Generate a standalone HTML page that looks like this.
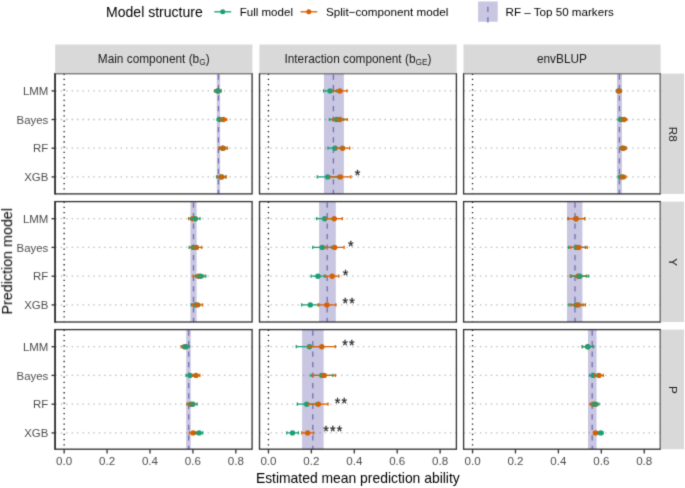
<!DOCTYPE html>
<html><head><meta charset="utf-8"><title>Chart</title>
<style>html,body{margin:0;padding:0;background:#fff;}body{width:685px;height:488px;overflow:hidden;font-family:"Liberation Sans",sans-serif;}svg{display:block;}</style>
</head><body>
<svg width="685" height="488" viewBox="0 0 685 488" font-family="Liberation Sans, sans-serif">
<defs><filter id="soft" x="0" y="0" width="100%" height="100%" filterUnits="objectBoundingBox" color-interpolation-filters="sRGB"><feConvolveMatrix order="3" kernelMatrix="0.01917 0.10012 0.01917 0.10012 0.52283 0.10012 0.01917 0.10012 0.01917" divisor="1" edgeMode="duplicate" preserveAlpha="true"/></filter></defs>
<g filter="url(#soft)">
<rect width="685" height="488" fill="#fff"/>
<text x="106.0" y="17.2" font-size="14.05" fill="#000">Model structure</text>
<line x1="214.3" x2="231.2" y1="11.8" y2="11.8" stroke="#1B9E77" stroke-width="1.33"/>
<circle cx="222.7" cy="11.8" r="2.5" fill="#1B9E77"/>
<line x1="300.5" x2="317.2" y1="11.8" y2="11.8" stroke="#D95F02" stroke-width="1.33"/>
<circle cx="308.8" cy="11.8" r="2.5" fill="#D95F02"/>
<text x="239.7" y="15.8" font-size="11.55" fill="#000">Full model</text>
<text x="326.0" y="15.8" font-size="11.68" fill="#000">Split−component model</text>
<rect x="478.1" y="1.5" width="19.6" height="20.2" fill="#C8C6E1"/>
<line x1="487.9" x2="487.9" y1="22.5" y2="1.5" stroke="#7570B3" stroke-width="1.33" stroke-dasharray="5.23 5.23"/>
<text x="505.5" y="15.8" font-size="11.63" fill="#000">RF – Top 50 markers</text>
<g>
<rect x="55.3" y="73.6" width="196.8" height="120.30000000000001" fill="#fff"/>
<line x1="55.3" x2="252.1" y1="90.9" y2="90.9" stroke="#B8B8B8" stroke-width="1.33" stroke-dasharray="1.36 4.08"/>
<line x1="55.3" x2="252.1" y1="119.5" y2="119.5" stroke="#B8B8B8" stroke-width="1.33" stroke-dasharray="1.36 4.08"/>
<line x1="55.3" x2="252.1" y1="148.2" y2="148.2" stroke="#B8B8B8" stroke-width="1.33" stroke-dasharray="1.36 4.08"/>
<line x1="55.3" x2="252.1" y1="176.9" y2="176.9" stroke="#B8B8B8" stroke-width="1.33" stroke-dasharray="1.36 4.08"/>
<rect x="216.8" y="73.6" width="3.299999999999983" height="120.30000000000001" fill="#7570B3" fill-opacity="0.4"/>
<line x1="218.45" x2="218.45" y1="74.6" y2="193.9" stroke="#7570B3" stroke-width="1.33" stroke-dasharray="5.23 5.23"/>
<line x1="64.15" x2="64.15" y1="73.6" y2="193.9" stroke="#1A1A1A" stroke-width="1.33" stroke-dasharray="1.31 3.9"/>
<circle cx="217.9" cy="90.9" r="2.7" fill="#D95F02"/>
<circle cx="217.9" cy="90.9" r="2.7" fill="#1B9E77"/>
<circle cx="219.6" cy="119.5" r="2.7" fill="#1B9E77"/>
<circle cx="223.3" cy="119.5" r="2.7" fill="#D95F02"/>
<circle cx="222.6" cy="148.2" r="2.7" fill="#1B9E77"/>
<circle cx="223.06" cy="148.2" r="2.7" fill="#D95F02"/>
<circle cx="221.0" cy="176.9" r="2.7" fill="#1B9E77"/>
<circle cx="221.8" cy="176.9" r="2.7" fill="#D95F02"/>
<path d="M214.8 89.30000000000001V92.5M221.0 89.30000000000001V92.5M214.8 90.9H221.0" stroke="#D95F02" stroke-width="1.33" fill="none"/>
<path d="M214.9 89.30000000000001V92.5M220.9 89.30000000000001V92.5M214.9 90.9H220.9" stroke="#1B9E77" stroke-width="1.33" fill="none"/>
<path d="M217.1 117.9V121.1M222.3 117.9V121.1M217.1 119.5H222.3" stroke="#1B9E77" stroke-width="1.33" fill="none"/>
<path d="M219.9 117.9V121.1M226.7 117.9V121.1M219.9 119.5H226.7" stroke="#D95F02" stroke-width="1.33" fill="none"/>
<path d="M219.5 146.6V149.79999999999998M225.7 146.6V149.79999999999998M219.5 148.2H225.7" stroke="#1B9E77" stroke-width="1.33" fill="none"/>
<path d="M218.7 146.6V149.79999999999998M227.4 146.6V149.79999999999998M218.7 148.2H227.4" stroke="#D95F02" stroke-width="1.33" fill="none"/>
<path d="M216.6 175.3V178.5M225.5 175.3V178.5M216.6 176.9H225.5" stroke="#1B9E77" stroke-width="1.33" fill="none"/>
<path d="M217.5 175.3V178.5M226.2 175.3V178.5M217.5 176.9H226.2" stroke="#D95F02" stroke-width="1.33" fill="none"/>
<rect x="55.3" y="73.6" width="196.8" height="120.30000000000001" fill="none" stroke="#333333" stroke-width="1.33"/>
<line x1="55.0" x2="55.0" y1="72.94" y2="194.56" stroke="#333333" stroke-width="1.6"/>
</g>
<g>
<rect x="259.5" y="73.6" width="196.89999999999998" height="120.30000000000001" fill="#fff"/>
<line x1="259.5" x2="456.4" y1="90.9" y2="90.9" stroke="#B8B8B8" stroke-width="1.33" stroke-dasharray="1.36 4.08"/>
<line x1="259.5" x2="456.4" y1="119.5" y2="119.5" stroke="#B8B8B8" stroke-width="1.33" stroke-dasharray="1.36 4.08"/>
<line x1="259.5" x2="456.4" y1="148.2" y2="148.2" stroke="#B8B8B8" stroke-width="1.33" stroke-dasharray="1.36 4.08"/>
<line x1="259.5" x2="456.4" y1="176.9" y2="176.9" stroke="#B8B8B8" stroke-width="1.33" stroke-dasharray="1.36 4.08"/>
<rect x="323.96" y="73.6" width="19.910000000000025" height="120.30000000000001" fill="#7570B3" fill-opacity="0.4"/>
<line x1="333.4" x2="333.4" y1="74.6" y2="193.9" stroke="#7570B3" stroke-width="1.33" stroke-dasharray="5.23 5.23"/>
<line x1="268.45" x2="268.45" y1="73.6" y2="193.9" stroke="#1A1A1A" stroke-width="1.33" stroke-dasharray="1.31 3.9"/>
<circle cx="330.1" cy="90.9" r="2.7" fill="#1B9E77"/>
<circle cx="339.9" cy="90.9" r="2.7" fill="#D95F02"/>
<circle cx="336.6" cy="119.5" r="2.7" fill="#1B9E77"/>
<circle cx="339.9" cy="119.5" r="2.7" fill="#D95F02"/>
<circle cx="335.0" cy="148.2" r="2.7" fill="#1B9E77"/>
<circle cx="342.6" cy="148.2" r="2.7" fill="#D95F02"/>
<circle cx="327.65" cy="176.9" r="2.7" fill="#1B9E77"/>
<circle cx="340.3" cy="176.9" r="2.7" fill="#D95F02"/>
<path d="M323.6 89.30000000000001V92.5M336.6 89.30000000000001V92.5M323.6 90.9H336.6" stroke="#1B9E77" stroke-width="1.33" fill="none"/>
<path d="M333.2 89.30000000000001V92.5M347.0 89.30000000000001V92.5M333.2 90.9H347.0" stroke="#D95F02" stroke-width="1.33" fill="none"/>
<path d="M329.4 117.9V121.1M343.8 117.9V121.1M329.4 119.5H343.8" stroke="#1B9E77" stroke-width="1.33" fill="none"/>
<path d="M332.9 117.9V121.1M347.3 117.9V121.1M332.9 119.5H347.3" stroke="#D95F02" stroke-width="1.33" fill="none"/>
<path d="M328.0 146.6V149.79999999999998M342.1 146.6V149.79999999999998M328.0 148.2H342.1" stroke="#1B9E77" stroke-width="1.33" fill="none"/>
<path d="M335.8 146.6V149.79999999999998M349.7 146.6V149.79999999999998M335.8 148.2H349.7" stroke="#D95F02" stroke-width="1.33" fill="none"/>
<path d="M317.3 175.3V178.5M338.0 175.3V178.5M317.3 176.9H338.0" stroke="#1B9E77" stroke-width="1.33" fill="none"/>
<path d="M329.8 175.3V178.5M350.9 175.3V178.5M329.8 176.9H350.9" stroke="#D95F02" stroke-width="1.33" fill="none"/>
<text x="357.45" y="180.45" font-size="14.2" fill="#262626" stroke="#262626" stroke-width="0.3" text-anchor="middle">*</text>
<rect x="259.5" y="73.6" width="196.89999999999998" height="120.30000000000001" fill="none" stroke="#333333" stroke-width="1.33"/>
</g>
<g>
<rect x="463.6" y="73.6" width="196.69999999999993" height="120.30000000000001" fill="#fff"/>
<line x1="463.6" x2="660.3" y1="90.9" y2="90.9" stroke="#B8B8B8" stroke-width="1.33" stroke-dasharray="1.36 4.08"/>
<line x1="463.6" x2="660.3" y1="119.5" y2="119.5" stroke="#B8B8B8" stroke-width="1.33" stroke-dasharray="1.36 4.08"/>
<line x1="463.6" x2="660.3" y1="148.2" y2="148.2" stroke="#B8B8B8" stroke-width="1.33" stroke-dasharray="1.36 4.08"/>
<line x1="463.6" x2="660.3" y1="176.9" y2="176.9" stroke="#B8B8B8" stroke-width="1.33" stroke-dasharray="1.36 4.08"/>
<rect x="616.97" y="73.6" width="4.92999999999995" height="120.30000000000001" fill="#7570B3" fill-opacity="0.4"/>
<line x1="619.4" x2="619.4" y1="74.6" y2="193.9" stroke="#7570B3" stroke-width="1.33" stroke-dasharray="5.23 5.23"/>
<line x1="472.55" x2="472.55" y1="73.6" y2="193.9" stroke="#1A1A1A" stroke-width="1.33" stroke-dasharray="1.31 3.9"/>
<circle cx="618.6" cy="90.9" r="2.7" fill="#1B9E77"/>
<circle cx="619.07" cy="90.9" r="2.7" fill="#D95F02"/>
<circle cx="620.9" cy="119.5" r="2.7" fill="#1B9E77"/>
<circle cx="624.0" cy="119.5" r="2.7" fill="#D95F02"/>
<circle cx="622.6" cy="148.2" r="2.7" fill="#1B9E77"/>
<circle cx="623.6" cy="148.2" r="2.7" fill="#D95F02"/>
<circle cx="620.9" cy="176.9" r="2.7" fill="#1B9E77"/>
<circle cx="623.1" cy="176.9" r="2.7" fill="#D95F02"/>
<path d="M616.3 89.30000000000001V92.5M620.9 89.30000000000001V92.5M616.3 90.9H620.9" stroke="#1B9E77" stroke-width="1.33" fill="none"/>
<path d="M616.8 89.30000000000001V92.5M621.4 89.30000000000001V92.5M616.8 90.9H621.4" stroke="#D95F02" stroke-width="1.33" fill="none"/>
<path d="M618.3 117.9V121.1M623.5 117.9V121.1M618.3 119.5H623.5" stroke="#1B9E77" stroke-width="1.33" fill="none"/>
<path d="M621.3 117.9V121.1M626.7 117.9V121.1M621.3 119.5H626.7" stroke="#D95F02" stroke-width="1.33" fill="none"/>
<path d="M619.9 146.6V149.79999999999998M625.3 146.6V149.79999999999998M619.9 148.2H625.3" stroke="#1B9E77" stroke-width="1.33" fill="none"/>
<path d="M620.9 146.6V149.79999999999998M626.3 146.6V149.79999999999998M620.9 148.2H626.3" stroke="#D95F02" stroke-width="1.33" fill="none"/>
<path d="M618.3 175.3V178.5M623.5 175.3V178.5M618.3 176.9H623.5" stroke="#1B9E77" stroke-width="1.33" fill="none"/>
<path d="M620.3 175.3V178.5M625.9 175.3V178.5M620.3 176.9H625.9" stroke="#D95F02" stroke-width="1.33" fill="none"/>
<rect x="463.6" y="73.6" width="196.69999999999993" height="120.30000000000001" fill="none" stroke="#333333" stroke-width="1.33"/>
</g>
<line x1="51.5" x2="55.3" y1="90.9" y2="90.9" stroke="#333333" stroke-width="1.33"/>
<text x="48.3" y="95.10000000000001" font-size="11.45" fill="#4D4D4D" text-anchor="end">LMM</text>
<line x1="51.5" x2="55.3" y1="119.5" y2="119.5" stroke="#333333" stroke-width="1.33"/>
<text x="48.3" y="123.7" font-size="11.45" fill="#4D4D4D" text-anchor="end">Bayes</text>
<line x1="51.5" x2="55.3" y1="148.2" y2="148.2" stroke="#333333" stroke-width="1.33"/>
<text x="48.3" y="152.39999999999998" font-size="11.45" fill="#4D4D4D" text-anchor="end">RF</text>
<line x1="51.5" x2="55.3" y1="176.9" y2="176.9" stroke="#333333" stroke-width="1.33"/>
<text x="48.3" y="181.1" font-size="11.45" fill="#4D4D4D" text-anchor="end">XGB</text>
<g>
<rect x="55.3" y="201.6" width="196.8" height="120.4" fill="#fff"/>
<line x1="55.3" x2="252.1" y1="218.7" y2="218.7" stroke="#B8B8B8" stroke-width="1.33" stroke-dasharray="1.36 4.08"/>
<line x1="55.3" x2="252.1" y1="247.4" y2="247.4" stroke="#B8B8B8" stroke-width="1.33" stroke-dasharray="1.36 4.08"/>
<line x1="55.3" x2="252.1" y1="276.2" y2="276.2" stroke="#B8B8B8" stroke-width="1.33" stroke-dasharray="1.36 4.08"/>
<line x1="55.3" x2="252.1" y1="304.9" y2="304.9" stroke="#B8B8B8" stroke-width="1.33" stroke-dasharray="1.36 4.08"/>
<rect x="190.45" y="201.6" width="6.150000000000006" height="120.4" fill="#7570B3" fill-opacity="0.4"/>
<line x1="193.5" x2="193.5" y1="202.6" y2="322.0" stroke="#7570B3" stroke-width="1.33" stroke-dasharray="5.23 5.23"/>
<line x1="64.15" x2="64.15" y1="201.6" y2="322.0" stroke="#1A1A1A" stroke-width="1.33" stroke-dasharray="1.31 3.9"/>
<circle cx="192.7" cy="218.7" r="2.7" fill="#D95F02"/>
<circle cx="195.4" cy="218.7" r="2.7" fill="#1B9E77"/>
<circle cx="193.3" cy="247.4" r="2.7" fill="#1B9E77"/>
<circle cx="196.4" cy="247.4" r="2.7" fill="#D95F02"/>
<circle cx="198.5" cy="276.2" r="2.7" fill="#D95F02"/>
<circle cx="200.7" cy="276.2" r="2.7" fill="#1B9E77"/>
<circle cx="195.4" cy="304.9" r="2.7" fill="#1B9E77"/>
<circle cx="197.5" cy="304.9" r="2.7" fill="#D95F02"/>
<path d="M188.7 217.1V220.29999999999998M196.7 217.1V220.29999999999998M188.7 218.7H196.7" stroke="#D95F02" stroke-width="1.33" fill="none"/>
<path d="M190.8 217.1V220.29999999999998M200.0 217.1V220.29999999999998M190.8 218.7H200.0" stroke="#1B9E77" stroke-width="1.33" fill="none"/>
<path d="M189.2 245.8V249.0M197.4 245.8V249.0M189.2 247.4H197.4" stroke="#1B9E77" stroke-width="1.33" fill="none"/>
<path d="M191.4 245.8V249.0M201.6 245.8V249.0M191.4 247.4H201.6" stroke="#D95F02" stroke-width="1.33" fill="none"/>
<path d="M193.2 274.59999999999997V277.8M203.8 274.59999999999997V277.8M193.2 276.2H203.8" stroke="#D95F02" stroke-width="1.33" fill="none"/>
<path d="M195.6 274.59999999999997V277.8M205.8 274.59999999999997V277.8M195.6 276.2H205.8" stroke="#1B9E77" stroke-width="1.33" fill="none"/>
<path d="M191.1 303.29999999999995V306.5M199.7 303.29999999999995V306.5M191.1 304.9H199.7" stroke="#1B9E77" stroke-width="1.33" fill="none"/>
<path d="M192.5 303.29999999999995V306.5M202.5 303.29999999999995V306.5M192.5 304.9H202.5" stroke="#D95F02" stroke-width="1.33" fill="none"/>
<rect x="55.3" y="201.6" width="196.8" height="120.4" fill="none" stroke="#333333" stroke-width="1.33"/>
<line x1="55.0" x2="55.0" y1="200.94" y2="322.66" stroke="#333333" stroke-width="1.6"/>
</g>
<g>
<rect x="259.5" y="201.6" width="196.89999999999998" height="120.4" fill="#fff"/>
<line x1="259.5" x2="456.4" y1="218.7" y2="218.7" stroke="#B8B8B8" stroke-width="1.33" stroke-dasharray="1.36 4.08"/>
<line x1="259.5" x2="456.4" y1="247.4" y2="247.4" stroke="#B8B8B8" stroke-width="1.33" stroke-dasharray="1.36 4.08"/>
<line x1="259.5" x2="456.4" y1="276.2" y2="276.2" stroke="#B8B8B8" stroke-width="1.33" stroke-dasharray="1.36 4.08"/>
<line x1="259.5" x2="456.4" y1="304.9" y2="304.9" stroke="#B8B8B8" stroke-width="1.33" stroke-dasharray="1.36 4.08"/>
<rect x="319.1" y="201.6" width="16.69999999999999" height="120.4" fill="#7570B3" fill-opacity="0.4"/>
<line x1="327.2" x2="327.2" y1="202.6" y2="322.0" stroke="#7570B3" stroke-width="1.33" stroke-dasharray="5.23 5.23"/>
<line x1="268.45" x2="268.45" y1="201.6" y2="322.0" stroke="#1A1A1A" stroke-width="1.33" stroke-dasharray="1.31 3.9"/>
<circle cx="324.8" cy="218.7" r="2.7" fill="#1B9E77"/>
<circle cx="334.2" cy="218.7" r="2.7" fill="#D95F02"/>
<circle cx="322.2" cy="247.4" r="2.7" fill="#1B9E77"/>
<circle cx="334.6" cy="247.4" r="2.7" fill="#D95F02"/>
<circle cx="317.9" cy="276.2" r="2.7" fill="#1B9E77"/>
<circle cx="332.15" cy="276.2" r="2.7" fill="#D95F02"/>
<circle cx="310.3" cy="304.9" r="2.7" fill="#1B9E77"/>
<circle cx="326.9" cy="304.9" r="2.7" fill="#D95F02"/>
<path d="M316.7 217.1V220.29999999999998M332.9 217.1V220.29999999999998M316.7 218.7H332.9" stroke="#1B9E77" stroke-width="1.33" fill="none"/>
<path d="M326.1 217.1V220.29999999999998M342.3 217.1V220.29999999999998M326.1 218.7H342.3" stroke="#D95F02" stroke-width="1.33" fill="none"/>
<path d="M312.7 245.8V249.0M331.7 245.8V249.0M312.7 247.4H331.7" stroke="#1B9E77" stroke-width="1.33" fill="none"/>
<path d="M325.1 245.8V249.0M344.1 245.8V249.0M325.1 247.4H344.1" stroke="#D95F02" stroke-width="1.33" fill="none"/>
<text x="350.65" y="250.95" font-size="14.2" fill="#262626" stroke="#262626" stroke-width="0.3" text-anchor="middle">*</text>
<path d="M311.2 274.59999999999997V277.8M324.6 274.59999999999997V277.8M311.2 276.2H324.6" stroke="#1B9E77" stroke-width="1.33" fill="none"/>
<path d="M325.45 274.59999999999997V277.8M338.85 274.59999999999997V277.8M325.45 276.2H338.85" stroke="#D95F02" stroke-width="1.33" fill="none"/>
<text x="345.40" y="279.75" font-size="14.2" fill="#262626" stroke="#262626" stroke-width="0.3" text-anchor="middle">*</text>
<path d="M301.6 303.29999999999995V306.5M319.0 303.29999999999995V306.5M301.6 304.9H319.0" stroke="#1B9E77" stroke-width="1.33" fill="none"/>
<path d="M318.0 303.29999999999995V306.5M335.8 303.29999999999995V306.5M318.0 304.9H335.8" stroke="#D95F02" stroke-width="1.33" fill="none"/>
<text x="345.35" y="308.45" font-size="14.2" fill="#262626" stroke="#262626" stroke-width="0.3" text-anchor="middle">*</text>
<text x="352.05" y="308.45" font-size="14.2" fill="#262626" stroke="#262626" stroke-width="0.3" text-anchor="middle">*</text>
<rect x="259.5" y="201.6" width="196.89999999999998" height="120.4" fill="none" stroke="#333333" stroke-width="1.33"/>
</g>
<g>
<rect x="463.6" y="201.6" width="196.69999999999993" height="120.4" fill="#fff"/>
<line x1="463.6" x2="660.3" y1="218.7" y2="218.7" stroke="#B8B8B8" stroke-width="1.33" stroke-dasharray="1.36 4.08"/>
<line x1="463.6" x2="660.3" y1="247.4" y2="247.4" stroke="#B8B8B8" stroke-width="1.33" stroke-dasharray="1.36 4.08"/>
<line x1="463.6" x2="660.3" y1="276.2" y2="276.2" stroke="#B8B8B8" stroke-width="1.33" stroke-dasharray="1.36 4.08"/>
<line x1="463.6" x2="660.3" y1="304.9" y2="304.9" stroke="#B8B8B8" stroke-width="1.33" stroke-dasharray="1.36 4.08"/>
<rect x="567.0" y="201.6" width="15.399999999999977" height="120.4" fill="#7570B3" fill-opacity="0.4"/>
<line x1="575.0" x2="575.0" y1="202.6" y2="322.0" stroke="#7570B3" stroke-width="1.33" stroke-dasharray="5.23 5.23"/>
<line x1="472.55" x2="472.55" y1="201.6" y2="322.0" stroke="#1A1A1A" stroke-width="1.33" stroke-dasharray="1.31 3.9"/>
<circle cx="576.0" cy="218.7" r="2.7" fill="#1B9E77"/>
<circle cx="576.0" cy="218.7" r="2.7" fill="#D95F02"/>
<circle cx="576.5" cy="247.4" r="2.7" fill="#1B9E77"/>
<circle cx="578.7" cy="247.4" r="2.7" fill="#D95F02"/>
<circle cx="578.1" cy="276.2" r="2.7" fill="#D95F02"/>
<circle cx="579.9" cy="276.2" r="2.7" fill="#1B9E77"/>
<circle cx="576.0" cy="304.9" r="2.7" fill="#1B9E77"/>
<circle cx="578.3" cy="304.9" r="2.7" fill="#D95F02"/>
<path d="M568.1 217.1V220.29999999999998M584.6 217.1V220.29999999999998M568.1 218.7H584.6" stroke="#1B9E77" stroke-width="1.33" fill="none"/>
<path d="M567.95 217.1V220.29999999999998M584.8 217.1V220.29999999999998M567.95 218.7H584.8" stroke="#D95F02" stroke-width="1.33" fill="none"/>
<path d="M568.6 245.8V249.0M585.4 245.8V249.0M568.6 247.4H585.4" stroke="#1B9E77" stroke-width="1.33" fill="none"/>
<path d="M570.4 245.8V249.0M587.25 245.8V249.0M570.4 247.4H587.25" stroke="#D95F02" stroke-width="1.33" fill="none"/>
<path d="M570.2 274.59999999999997V277.8M586.4 274.59999999999997V277.8M570.2 276.2H586.4" stroke="#D95F02" stroke-width="1.33" fill="none"/>
<path d="M571.3 274.59999999999997V277.8M588.5 274.59999999999997V277.8M571.3 276.2H588.5" stroke="#1B9E77" stroke-width="1.33" fill="none"/>
<path d="M568.9 303.29999999999995V306.5M583.1 303.29999999999995V306.5M568.9 304.9H583.1" stroke="#1B9E77" stroke-width="1.33" fill="none"/>
<path d="M571.0 303.29999999999995V306.5M585.4 303.29999999999995V306.5M571.0 304.9H585.4" stroke="#D95F02" stroke-width="1.33" fill="none"/>
<rect x="463.6" y="201.6" width="196.69999999999993" height="120.4" fill="none" stroke="#333333" stroke-width="1.33"/>
</g>
<line x1="51.5" x2="55.3" y1="218.7" y2="218.7" stroke="#333333" stroke-width="1.33"/>
<text x="48.3" y="222.89999999999998" font-size="11.45" fill="#4D4D4D" text-anchor="end">LMM</text>
<line x1="51.5" x2="55.3" y1="247.4" y2="247.4" stroke="#333333" stroke-width="1.33"/>
<text x="48.3" y="251.6" font-size="11.45" fill="#4D4D4D" text-anchor="end">Bayes</text>
<line x1="51.5" x2="55.3" y1="276.2" y2="276.2" stroke="#333333" stroke-width="1.33"/>
<text x="48.3" y="280.4" font-size="11.45" fill="#4D4D4D" text-anchor="end">RF</text>
<line x1="51.5" x2="55.3" y1="304.9" y2="304.9" stroke="#333333" stroke-width="1.33"/>
<text x="48.3" y="309.09999999999997" font-size="11.45" fill="#4D4D4D" text-anchor="end">XGB</text>
<g>
<rect x="55.3" y="329.6" width="196.8" height="119.59999999999997" fill="#fff"/>
<line x1="55.3" x2="252.1" y1="346.7" y2="346.7" stroke="#B8B8B8" stroke-width="1.33" stroke-dasharray="1.36 4.08"/>
<line x1="55.3" x2="252.1" y1="375.4" y2="375.4" stroke="#B8B8B8" stroke-width="1.33" stroke-dasharray="1.36 4.08"/>
<line x1="55.3" x2="252.1" y1="404.2" y2="404.2" stroke="#B8B8B8" stroke-width="1.33" stroke-dasharray="1.36 4.08"/>
<line x1="55.3" x2="252.1" y1="432.9" y2="432.9" stroke="#B8B8B8" stroke-width="1.33" stroke-dasharray="1.36 4.08"/>
<rect x="186.2" y="329.6" width="4.5" height="119.59999999999997" fill="#7570B3" fill-opacity="0.4"/>
<line x1="188.7" x2="188.7" y1="330.6" y2="449.2" stroke="#7570B3" stroke-width="1.33" stroke-dasharray="5.23 5.23"/>
<line x1="64.15" x2="64.15" y1="329.6" y2="449.2" stroke="#1A1A1A" stroke-width="1.33" stroke-dasharray="1.31 3.9"/>
<circle cx="184.5" cy="346.7" r="2.7" fill="#D95F02"/>
<circle cx="186.0" cy="346.7" r="2.7" fill="#1B9E77"/>
<circle cx="189.9" cy="375.4" r="2.7" fill="#1B9E77"/>
<circle cx="196.1" cy="375.4" r="2.7" fill="#D95F02"/>
<circle cx="190.7" cy="404.2" r="2.7" fill="#D95F02"/>
<circle cx="192.75" cy="404.2" r="2.7" fill="#1B9E77"/>
<circle cx="193.1" cy="432.9" r="2.7" fill="#D95F02"/>
<circle cx="199.15" cy="432.9" r="2.7" fill="#1B9E77"/>
<path d="M181.1 345.09999999999997V348.3M187.9 345.09999999999997V348.3M181.1 346.7H187.9" stroke="#D95F02" stroke-width="1.33" fill="none"/>
<path d="M182.6 345.09999999999997V348.3M189.4 345.09999999999997V348.3M182.6 346.7H189.4" stroke="#1B9E77" stroke-width="1.33" fill="none"/>
<path d="M186.0 373.79999999999995V377.0M193.8 373.79999999999995V377.0M186.0 375.4H193.8" stroke="#1B9E77" stroke-width="1.33" fill="none"/>
<path d="M192.4 373.79999999999995V377.0M199.8 373.79999999999995V377.0M192.4 375.4H199.8" stroke="#D95F02" stroke-width="1.33" fill="none"/>
<path d="M186.9 402.59999999999997V405.8M194.5 402.59999999999997V405.8M186.9 404.2H194.5" stroke="#D95F02" stroke-width="1.33" fill="none"/>
<path d="M188.5 402.59999999999997V405.8M197.0 402.59999999999997V405.8M188.5 404.2H197.0" stroke="#1B9E77" stroke-width="1.33" fill="none"/>
<path d="M189.4 431.29999999999995V434.5M196.8 431.29999999999995V434.5M189.4 432.9H196.8" stroke="#D95F02" stroke-width="1.33" fill="none"/>
<path d="M195.6 431.29999999999995V434.5M202.7 431.29999999999995V434.5M195.6 432.9H202.7" stroke="#1B9E77" stroke-width="1.33" fill="none"/>
<rect x="55.3" y="329.6" width="196.8" height="119.59999999999997" fill="none" stroke="#333333" stroke-width="1.33"/>
<line x1="55.0" x2="55.0" y1="328.94" y2="449.86" stroke="#333333" stroke-width="1.6"/>
</g>
<line x1="64.15" x2="64.15" y1="449.2" y2="453.4" stroke="#333333" stroke-width="1.33"/>
<text x="64.15" y="464.8" font-size="11.6" fill="#4D4D4D" text-anchor="middle">0.0</text>
<line x1="107.07" x2="107.07" y1="449.2" y2="453.4" stroke="#333333" stroke-width="1.33"/>
<text x="107.07" y="464.8" font-size="11.6" fill="#4D4D4D" text-anchor="middle">0.2</text>
<line x1="149.99" x2="149.99" y1="449.2" y2="453.4" stroke="#333333" stroke-width="1.33"/>
<text x="149.99" y="464.8" font-size="11.6" fill="#4D4D4D" text-anchor="middle">0.4</text>
<line x1="192.91" x2="192.91" y1="449.2" y2="453.4" stroke="#333333" stroke-width="1.33"/>
<text x="192.91" y="464.8" font-size="11.6" fill="#4D4D4D" text-anchor="middle">0.6</text>
<line x1="235.83" x2="235.83" y1="449.2" y2="453.4" stroke="#333333" stroke-width="1.33"/>
<text x="235.83" y="464.8" font-size="11.6" fill="#4D4D4D" text-anchor="middle">0.8</text>
<g>
<rect x="259.5" y="329.6" width="196.89999999999998" height="119.59999999999997" fill="#fff"/>
<line x1="259.5" x2="456.4" y1="346.7" y2="346.7" stroke="#B8B8B8" stroke-width="1.33" stroke-dasharray="1.36 4.08"/>
<line x1="259.5" x2="456.4" y1="375.4" y2="375.4" stroke="#B8B8B8" stroke-width="1.33" stroke-dasharray="1.36 4.08"/>
<line x1="259.5" x2="456.4" y1="404.2" y2="404.2" stroke="#B8B8B8" stroke-width="1.33" stroke-dasharray="1.36 4.08"/>
<line x1="259.5" x2="456.4" y1="432.9" y2="432.9" stroke="#B8B8B8" stroke-width="1.33" stroke-dasharray="1.36 4.08"/>
<rect x="302.1" y="329.6" width="21.5" height="119.59999999999997" fill="#7570B3" fill-opacity="0.4"/>
<line x1="312.8" x2="312.8" y1="330.6" y2="449.2" stroke="#7570B3" stroke-width="1.33" stroke-dasharray="5.23 5.23"/>
<line x1="268.45" x2="268.45" y1="329.6" y2="449.2" stroke="#1A1A1A" stroke-width="1.33" stroke-dasharray="1.31 3.9"/>
<circle cx="309.5" cy="346.7" r="2.7" fill="#1B9E77"/>
<circle cx="321.8" cy="346.7" r="2.7" fill="#D95F02"/>
<circle cx="321.8" cy="375.4" r="2.7" fill="#1B9E77"/>
<circle cx="324.2" cy="375.4" r="2.7" fill="#D95F02"/>
<circle cx="306.7" cy="404.2" r="2.7" fill="#1B9E77"/>
<circle cx="318.3" cy="404.2" r="2.7" fill="#D95F02"/>
<circle cx="292.5" cy="432.9" r="2.7" fill="#1B9E77"/>
<circle cx="307.65" cy="432.9" r="2.7" fill="#D95F02"/>
<path d="M296.3 345.09999999999997V348.3M322.7 345.09999999999997V348.3M296.3 346.7H322.7" stroke="#1B9E77" stroke-width="1.33" fill="none"/>
<path d="M308.2 345.09999999999997V348.3M335.4 345.09999999999997V348.3M308.2 346.7H335.4" stroke="#D95F02" stroke-width="1.33" fill="none"/>
<text x="344.95" y="350.25" font-size="14.2" fill="#262626" stroke="#262626" stroke-width="0.3" text-anchor="middle">*</text>
<text x="351.65" y="350.25" font-size="14.2" fill="#262626" stroke="#262626" stroke-width="0.3" text-anchor="middle">*</text>
<path d="M310.8 373.79999999999995V377.0M332.8 373.79999999999995V377.0M310.8 375.4H332.8" stroke="#1B9E77" stroke-width="1.33" fill="none"/>
<path d="M313.0 373.79999999999995V377.0M335.4 373.79999999999995V377.0M313.0 375.4H335.4" stroke="#D95F02" stroke-width="1.33" fill="none"/>
<path d="M297.3 402.59999999999997V405.8M316.1 402.59999999999997V405.8M297.3 404.2H316.1" stroke="#1B9E77" stroke-width="1.33" fill="none"/>
<path d="M308.6 402.59999999999997V405.8M328.0 402.59999999999997V405.8M308.6 404.2H328.0" stroke="#D95F02" stroke-width="1.33" fill="none"/>
<text x="337.55" y="407.75" font-size="14.2" fill="#262626" stroke="#262626" stroke-width="0.3" text-anchor="middle">*</text>
<text x="344.25" y="407.75" font-size="14.2" fill="#262626" stroke="#262626" stroke-width="0.3" text-anchor="middle">*</text>
<path d="M286.8 431.29999999999995V434.5M298.4 431.29999999999995V434.5M286.8 432.9H298.4" stroke="#1B9E77" stroke-width="1.33" fill="none"/>
<path d="M301.8 431.29999999999995V434.5M313.5 431.29999999999995V434.5M301.8 432.9H313.5" stroke="#D95F02" stroke-width="1.33" fill="none"/>
<text x="326.05" y="436.45" font-size="14.2" fill="#262626" stroke="#262626" stroke-width="0.3" text-anchor="middle">*</text>
<text x="332.75" y="436.45" font-size="14.2" fill="#262626" stroke="#262626" stroke-width="0.3" text-anchor="middle">*</text>
<text x="339.45" y="436.45" font-size="14.2" fill="#262626" stroke="#262626" stroke-width="0.3" text-anchor="middle">*</text>
<rect x="259.5" y="329.6" width="196.89999999999998" height="119.59999999999997" fill="none" stroke="#333333" stroke-width="1.33"/>
</g>
<line x1="268.45" x2="268.45" y1="449.2" y2="453.4" stroke="#333333" stroke-width="1.33"/>
<text x="268.45" y="464.8" font-size="11.6" fill="#4D4D4D" text-anchor="middle">0.0</text>
<line x1="311.37" x2="311.37" y1="449.2" y2="453.4" stroke="#333333" stroke-width="1.33"/>
<text x="311.37" y="464.8" font-size="11.6" fill="#4D4D4D" text-anchor="middle">0.2</text>
<line x1="354.29" x2="354.29" y1="449.2" y2="453.4" stroke="#333333" stroke-width="1.33"/>
<text x="354.29" y="464.8" font-size="11.6" fill="#4D4D4D" text-anchor="middle">0.4</text>
<line x1="397.21" x2="397.21" y1="449.2" y2="453.4" stroke="#333333" stroke-width="1.33"/>
<text x="397.21" y="464.8" font-size="11.6" fill="#4D4D4D" text-anchor="middle">0.6</text>
<line x1="440.13" x2="440.13" y1="449.2" y2="453.4" stroke="#333333" stroke-width="1.33"/>
<text x="440.13" y="464.8" font-size="11.6" fill="#4D4D4D" text-anchor="middle">0.8</text>
<g>
<rect x="463.6" y="329.6" width="196.69999999999993" height="119.59999999999997" fill="#fff"/>
<line x1="463.6" x2="660.3" y1="346.7" y2="346.7" stroke="#B8B8B8" stroke-width="1.33" stroke-dasharray="1.36 4.08"/>
<line x1="463.6" x2="660.3" y1="375.4" y2="375.4" stroke="#B8B8B8" stroke-width="1.33" stroke-dasharray="1.36 4.08"/>
<line x1="463.6" x2="660.3" y1="404.2" y2="404.2" stroke="#B8B8B8" stroke-width="1.33" stroke-dasharray="1.36 4.08"/>
<line x1="463.6" x2="660.3" y1="432.9" y2="432.9" stroke="#B8B8B8" stroke-width="1.33" stroke-dasharray="1.36 4.08"/>
<rect x="588.0" y="329.6" width="8.5" height="119.59999999999997" fill="#7570B3" fill-opacity="0.4"/>
<line x1="592.2" x2="592.2" y1="330.6" y2="449.2" stroke="#7570B3" stroke-width="1.33" stroke-dasharray="5.23 5.23"/>
<line x1="472.55" x2="472.55" y1="329.6" y2="449.2" stroke="#1A1A1A" stroke-width="1.33" stroke-dasharray="1.31 3.9"/>
<circle cx="587.7" cy="346.7" r="2.7" fill="#D95F02"/>
<circle cx="587.9" cy="346.7" r="2.7" fill="#1B9E77"/>
<circle cx="593.3" cy="375.4" r="2.7" fill="#1B9E77"/>
<circle cx="598.95" cy="375.4" r="2.7" fill="#D95F02"/>
<circle cx="593.4" cy="404.2" r="2.7" fill="#D95F02"/>
<circle cx="595.6" cy="404.2" r="2.7" fill="#1B9E77"/>
<circle cx="595.6" cy="432.9" r="2.7" fill="#D95F02"/>
<circle cx="600.8" cy="432.9" r="2.7" fill="#1B9E77"/>
<path d="M582.2 345.09999999999997V348.3M593.4 345.09999999999997V348.3M582.2 346.7H593.4" stroke="#D95F02" stroke-width="1.33" fill="none"/>
<path d="M582.4 345.09999999999997V348.3M593.2 345.09999999999997V348.3M582.4 346.7H593.2" stroke="#1B9E77" stroke-width="1.33" fill="none"/>
<path d="M589.6 373.79999999999995V377.0M597.0 373.79999999999995V377.0M589.6 375.4H597.0" stroke="#1B9E77" stroke-width="1.33" fill="none"/>
<path d="M594.7 373.79999999999995V377.0M603.3 373.79999999999995V377.0M594.7 375.4H603.3" stroke="#D95F02" stroke-width="1.33" fill="none"/>
<path d="M590.2 402.59999999999997V405.8M596.7 402.59999999999997V405.8M590.2 404.2H596.7" stroke="#D95F02" stroke-width="1.33" fill="none"/>
<path d="M592.2 402.59999999999997V405.8M599.0 402.59999999999997V405.8M592.2 404.2H599.0" stroke="#1B9E77" stroke-width="1.33" fill="none"/>
<path d="M593.4 431.29999999999995V434.5M597.8 431.29999999999995V434.5M593.4 432.9H597.8" stroke="#D95F02" stroke-width="1.33" fill="none"/>
<path d="M598.6 431.29999999999995V434.5M603.0 431.29999999999995V434.5M598.6 432.9H603.0" stroke="#1B9E77" stroke-width="1.33" fill="none"/>
<rect x="463.6" y="329.6" width="196.69999999999993" height="119.59999999999997" fill="none" stroke="#333333" stroke-width="1.33"/>
</g>
<line x1="472.55" x2="472.55" y1="449.2" y2="453.4" stroke="#333333" stroke-width="1.33"/>
<text x="472.55" y="464.8" font-size="11.6" fill="#4D4D4D" text-anchor="middle">0.0</text>
<line x1="515.47" x2="515.47" y1="449.2" y2="453.4" stroke="#333333" stroke-width="1.33"/>
<text x="515.47" y="464.8" font-size="11.6" fill="#4D4D4D" text-anchor="middle">0.2</text>
<line x1="558.39" x2="558.39" y1="449.2" y2="453.4" stroke="#333333" stroke-width="1.33"/>
<text x="558.39" y="464.8" font-size="11.6" fill="#4D4D4D" text-anchor="middle">0.4</text>
<line x1="601.31" x2="601.31" y1="449.2" y2="453.4" stroke="#333333" stroke-width="1.33"/>
<text x="601.31" y="464.8" font-size="11.6" fill="#4D4D4D" text-anchor="middle">0.6</text>
<line x1="644.23" x2="644.23" y1="449.2" y2="453.4" stroke="#333333" stroke-width="1.33"/>
<text x="644.23" y="464.8" font-size="11.6" fill="#4D4D4D" text-anchor="middle">0.8</text>
<line x1="51.5" x2="55.3" y1="346.7" y2="346.7" stroke="#333333" stroke-width="1.33"/>
<text x="48.3" y="350.9" font-size="11.45" fill="#4D4D4D" text-anchor="end">LMM</text>
<line x1="51.5" x2="55.3" y1="375.4" y2="375.4" stroke="#333333" stroke-width="1.33"/>
<text x="48.3" y="379.59999999999997" font-size="11.45" fill="#4D4D4D" text-anchor="end">Bayes</text>
<line x1="51.5" x2="55.3" y1="404.2" y2="404.2" stroke="#333333" stroke-width="1.33"/>
<text x="48.3" y="408.4" font-size="11.45" fill="#4D4D4D" text-anchor="end">RF</text>
<line x1="51.5" x2="55.3" y1="432.9" y2="432.9" stroke="#333333" stroke-width="1.33"/>
<text x="48.3" y="437.09999999999997" font-size="11.45" fill="#4D4D4D" text-anchor="end">XGB</text>
<rect x="55.199999999999996" y="44.5" width="197.20000000000002" height="28.950000000000003" fill="#D9D9D9"/>
<text x="153.7" y="63.2" font-size="11.85" fill="#1A1A1A" text-anchor="middle">Main component (b<tspan font-size="8.3" dy="1.7">G</tspan><tspan dy="-1.7">)</tspan></text>
<rect x="259.4" y="44.5" width="197.29999999999998" height="28.950000000000003" fill="#D9D9D9"/>
<text x="357.95" y="63.2" font-size="11.85" fill="#1A1A1A" text-anchor="middle">Interaction component (b<tspan font-size="8.3" dy="1.7">GE</tspan><tspan dy="-1.7">)</tspan></text>
<rect x="463.5" y="44.5" width="197.09999999999994" height="28.950000000000003" fill="#D9D9D9"/>
<text x="561.95" y="63.2" font-size="11.85" fill="#1A1A1A" text-anchor="middle">envBLUP</text>
<rect x="660.6" y="73.6" width="23.5" height="120.30000000000001" fill="#D9D9D9"/>
<text transform="translate(668.5,134.15) rotate(90)" font-size="11.73" fill="#1A1A1A" text-anchor="middle">R8</text>
<rect x="660.6" y="201.6" width="23.5" height="120.4" fill="#D9D9D9"/>
<text transform="translate(668.5,262.2) rotate(90)" font-size="11.73" fill="#1A1A1A" text-anchor="middle">Y</text>
<rect x="660.6" y="329.6" width="23.5" height="119.59999999999997" fill="#D9D9D9"/>
<text transform="translate(668.5,389.79999999999995) rotate(90)" font-size="11.73" fill="#1A1A1A" text-anchor="middle">P</text>
<text x="357.8" y="482.8" font-size="13.9" fill="#000" text-anchor="middle">Estimated mean prediction ability</text>
<text transform="translate(12.1,261.3) rotate(-90)" font-size="14.3" fill="#000" text-anchor="middle">Prediction model</text>
</g>
</svg>
</body></html>
